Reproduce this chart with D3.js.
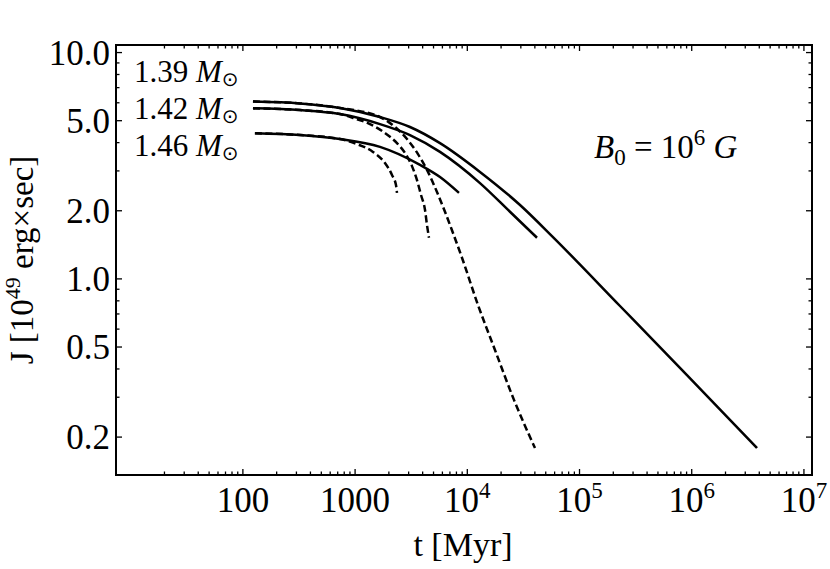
<!DOCTYPE html>
<html>
<head>
<meta charset="utf-8">
<script src="https://cdn.jsdelivr.net/npm/d3@7/dist/d3.min.js"></script>
<style>
  body { margin: 0; background: #fff; }
  svg text { font-family: "Liberation Serif", "Times New Roman", serif; fill: #000; }
</style>
</head>
<body>
<svg id="chart" width="830" height="569"></svg>
<script>
// t in Myr, J in 10^49 erg x sec
const solid139 = [[123, 6.08], [323, 5.96], [733, 5.69], [1667, 5.19], [3084, 4.69], [5710, 3.98], [12970, 2.97], [29500, 2.12], [58000, 1.53], [229500, 0.759], [907000, 0.376], [3820000, 0.179]]
const solid142 = [[123, 5.67], [323, 5.57], [733, 5.35], [1667, 4.83], [3084, 4.32], [5710, 3.64], [12970, 2.65], [24000, 1.98], [41800, 1.52]]
const solid146 = [[128, 4.40], [323, 4.32], [733, 4.15], [1667, 3.83], [3790, 3.19], [5710, 2.82], [8430, 2.40]]
const dash139 = [[123, 6.08], [323, 5.96], [733, 5.69], [1667, 5.19], [2268, 4.69], [2900, 4.15], [3635, 3.56], [4372, 3.03], [5368, 2.42], [6324, 1.98], [7303, 1.64], [8967, 1.24], [12450, 0.767], [17650, 0.485], [26060, 0.292], [40100, 0.179]]
const dash142 = [[123, 5.67], [323, 5.57], [733, 5.35], [998, 5.11], [1358, 4.83], [1846, 4.41], [2362, 3.98], [2784, 3.60], [3214, 3.15], [3562, 2.73], [3866, 2.35], [4197, 2.02], [4372, 1.73], [4555, 1.52]]
const dash146 = [[128, 4.40], [323, 4.32], [733, 4.15], [1040, 3.94], [1443, 3.64], [1846, 3.25], [2132, 2.88], [2314, 2.60], [2362, 2.40]]

const xMajor = [100, 1000, 1e4, 1e5, 1e6, 1e7]
const xLabels = [['100'], ['1000'], ['10', '4'], ['10', '5'], ['10', '6'], ['10', '7']]
const yMajor = [0.2, 0.5, 1, 2, 5, 10]
const yLabels = ['0.2', '0.5', '1.0', '2.0', '5.0', '10.0']
const yMinor = [0.3, 0.4, 0.6, 0.7, 0.8, 0.9, 3, 4, 6, 7, 8, 9]
const massLabels = ['1.39', '1.42', '1.46']

const svg = d3.select('#chart')
const L = 116, R = 812, T = 45, B = 475

const x = d3.scaleLog().domain([7.4, 1.18e7]).range([L, R])
const y = d3.scaleLog().domain([0.136, 10.8]).range([B, T])

// minor x ticks 2..9 in every decade
let xMinor = []
for (let e = 1; e < 7; e++) {
  for (let k = 2; k <= 9; k++) xMinor.push(k * Math.pow(10, e))
}
xMinor = xMinor.filter(d => d > 7.4 && d < 1.18e7)

const g = svg.append('g')

// ticks, inward on all four sides
const tickLine = (x1, y1, x2, y2) => g.append('line')
  .attr('x1', x1).attr('y1', y1).attr('x2', x2).attr('y2', y2)
  .attr('stroke', '#000').attr('stroke-width', 1.3)

xMajor.forEach(d => { tickLine(x(d), B, x(d), B - 6); tickLine(x(d), T, x(d), T + 6) })
xMinor.forEach(d => { tickLine(x(d), B, x(d), B - 3.5); tickLine(x(d), T, x(d), T + 3.5) })
yMajor.forEach(d => { tickLine(L, y(d), L + 6, y(d)); tickLine(R, y(d), R - 6, y(d)) })
yMinor.forEach(d => { tickLine(L, y(d), L + 3.5, y(d)); tickLine(R, y(d), R - 3.5, y(d)) })

// frame
g.append('rect').attr('x', L).attr('y', T).attr('width', R - L).attr('height', B - T)
  .attr('fill', 'none').attr('stroke', '#000').attr('stroke-width', 2)

// tick labels
xMajor.forEach((d, i) => {
  const t = g.append('text').attr('x', x(d)).attr('y', 512)
    .attr('text-anchor', 'middle').attr('font-size', 35)
  t.append('tspan').text(xLabels[i][0])
  if (xLabels[i][1]) t.append('tspan').attr('dy', -14).attr('font-size', 23).text(xLabels[i][1])
})
yMajor.forEach((d, i) => {
  g.append('text').attr('x', 110).attr('y', y(d)).attr('dy', '0.35em')
    .attr('text-anchor', 'end').attr('font-size', 35).text(yLabels[i])
})

// axis titles
g.append('text').attr('x', 463).attr('y', 556).attr('text-anchor', 'middle')
  .attr('font-size', 34).text('t [Myr]')
const yt = g.append('text').attr('transform', 'translate(33,260) rotate(-90)')
  .attr('text-anchor', 'middle').attr('font-size', 33)
yt.append('tspan').text('J [10')
yt.append('tspan').attr('dy', -13).attr('font-size', 22).text('49')
yt.append('tspan').attr('dy', 13).text(' erg×sec]')

// curves
const line = d3.line().x(d => x(d[0])).y(d => y(d[1])).curve(d3.curveMonotoneX)
const plot = svg.append('g')
;[solid139, solid142, solid146].forEach(s => {
  plot.append('path').attr('d', line(s)).attr('fill', 'none')
    .attr('stroke', '#000').attr('stroke-width', 2.5)
})
;[dash139, dash142, dash146].forEach(s => {
  plot.append('path').attr('d', line(s)).attr('fill', 'none')
    .attr('stroke', '#000').attr('stroke-width', 2.5).attr('stroke-dasharray', '7,3.5')
})

// mass labels
const massY = [82, 119, 156]
massLabels.forEach((m, i) => {
  const t = g.append('text').attr('x', 134).attr('y', massY[i]).attr('font-size', 31)
  t.append('tspan').text(m + ' ')
  t.append('tspan').attr('font-style', 'italic').text('M')
  t.append('tspan').attr('dy', 4).attr('font-size', 20).attr('font-family', 'DejaVu Sans').text('⊙')
})

// field label
const bl = g.append('text').attr('x', 594).attr('y', 158).attr('font-size', 33)
bl.append('tspan').attr('font-style', 'italic').text('B')
bl.append('tspan').attr('dy', 7).attr('font-size', 23).text('0')
bl.append('tspan').attr('dy', -7).text(' = 10')
bl.append('tspan').attr('dy', -13).attr('font-size', 23).text('6')
bl.append('tspan').attr('dy', 13).attr('font-style', 'italic').text(' G')
</script>
</body>
</html>
